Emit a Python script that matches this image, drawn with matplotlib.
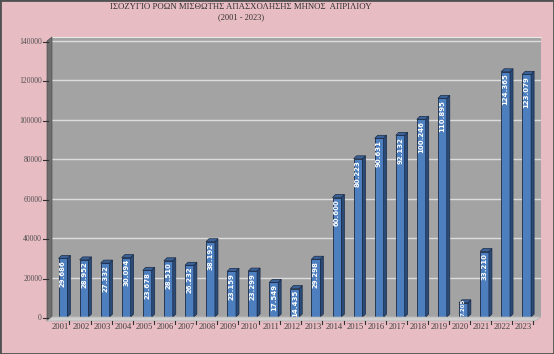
import numpy as np
import matplotlib
matplotlib.use('Agg')
import matplotlib.pyplot as plt
import matplotlib.patches as patches

# Dati
years = [str(y) for y in range(2001, 2024)]
values = [29686, 28952, 27332, 30094, 23678, 28510, 26232, 38192, 23159, 23299,
          17549, 14435, 29298, 60600, 80223, 90631, 92132, 100246, 110895, 7205,
          33210, 124365, 123079]
yticks = [0, 20000, 40000, 60000, 80000, 100000, 120000, 140000]
title = 'ΙΣΟΖΥΓΙΟ ΡΟΩΝ ΜΙΣΘΩΤΗΣ ΑΠΑΣΧΟΛΗΣΗΣ ΜΗΝΟΣ  ΑΠΡΙΛΙΟΥ'
subtitle = '(2001 - 2023)'

W, H = 554, 354
pink = '#e8bcc3'

def px(x, y):
    return (x / W, 1 - y / H)

fig = plt.figure(figsize=(W / 100, H / 100), dpi=100, facecolor=pink)

# Parete sinistra e pavimento (effetto 3D)
left_wall = patches.Polygon([px(47, 321), px(52, 317), px(52, 37), px(47, 41)],
                            closed=True, facecolor='#6e6e6e', edgecolor='#505050',
                            lw=0.5, transform=fig.transFigure)
floor = patches.Polygon([px(47, 321), px(535, 321), px(541, 317), px(52, 317)],
                        closed=True, facecolor='#cfcfcf', edgecolor='#b0b0b0',
                        lw=0.5, transform=fig.transFigure)
fig.patches.extend([left_wall, floor])

ax = fig.add_axes([52 / W, 1 - 317 / H, (541 - 52) / W, (317 - 37) / H])
ax.set_facecolor('#a3a3a3')
ax.set_xlim(-0.4, 22.8)
ax.set_ylim(0, 142000)
for s in ax.spines.values():
    s.set_visible(False)
ax.spines['top'].set_visible(True)
ax.spines['top'].set_color('#e8e8e8')

ax.set_yticks(yticks)
ax.yaxis.grid(True, color='#dcdcdc', lw=1)
ax.set_axisbelow(True)
ax.tick_params(axis='y', length=0, pad=0)
ax.set_yticklabels([])

x = np.arange(len(values)) + 0.12
bw = 0.42
ppx = (541 - 52) / 23.2          # pixel per unità x
ppy = (317 - 37) / 142000        # pixel per unità y
dx = 3 / ppx
dy = 3 / ppy

front = '#4d7fbf'
side = '#2a4a78'
top = '#3b6298'
edge = '#1a2a45'

ax.bar(x, values, width=bw, color=front, edgecolor=edge, lw=0.6, zorder=3)
for xi, v in zip(x, values):
    r = xi + bw / 2
    l = xi - bw / 2
    ax.add_patch(patches.Polygon([(r, 0), (r + dx, dy), (r + dx, v + dy), (r, v)],
                                 closed=True, facecolor=side, edgecolor=edge, lw=0.5, zorder=3))
    ax.add_patch(patches.Polygon([(l, v), (l + dx, v + dy), (r + dx, v + dy), (r, v)],
                                 closed=True, facecolor=top, edgecolor=edge, lw=0.5, zorder=3))
    lab = f'{v:,}'.replace(',', '.')
    if v * ppy < 22:
        # barra troppo bassa: etichetta dal fondo, più piccola
        ax.text(xi, 400, lab, rotation=90, ha='center', va='bottom', color='white',
                fontsize=4, fontweight='bold', zorder=4)
    else:
        ax.text(xi, v - 800, lab, rotation=90, ha='center', va='top', color='white',
                fontsize=5, fontweight='bold', zorder=4)

ax.set_xticks([])

# Etichette degli assi (piano frontale)
for yt in yticks:
    yy = 1 - (317 - yt * ppy + 1) / H
    fig.text(42 / W, yy, f'{yt}', ha='right', va='center', fontsize=5.5,
             family='Liberation Serif', color='#505050')
    fig.lines.append(plt.Line2D([43 / W, 48 / W], [yy, yy], color='#303030', lw=0.8,
                                transform=fig.transFigure))
for xi, yr in zip(x, years):
    xx = (52 + (xi + 0.4) * ppx - 3) / W
    fig.text(xx, 1 - 327 / H, yr, ha='center', va='center', fontsize=6.2,
             family='Liberation Serif', color='#404040')
    bx = (52 + (xi + 0.4 + 0.5) * ppx - 4) / W
    fig.lines.append(plt.Line2D([bx, bx], [1 - 321 / H, 1 - 324 / H], color='#303030',
                                lw=0.8, transform=fig.transFigure))

fig.text(241 / W, 1 - 7 / H, title, ha='center', va='center', fontsize=6.3,
         family='Liberation Serif', color='#303030')
fig.text(241 / W, 1 - 17 / H, subtitle, ha='center', va='center', fontsize=6,
         family='Liberation Serif', color='#303030')

# Cornice
fig.patches.append(patches.Rectangle((0, 0), 1, 1, fill=False, edgecolor='#505050',
                                     lw=2, transform=fig.transFigure))

fig.savefig('out.png', dpi=100, facecolor=pink)
